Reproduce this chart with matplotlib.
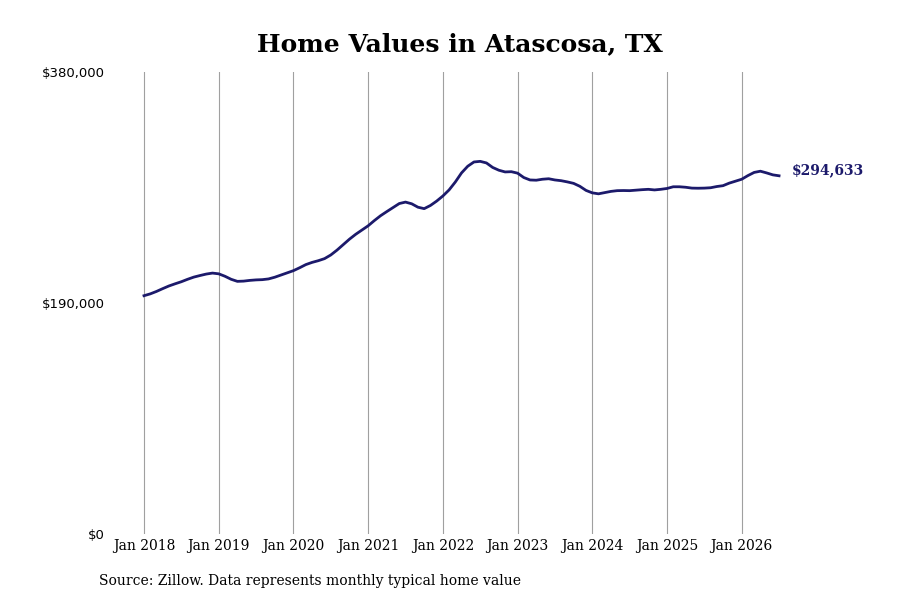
import matplotlib
matplotlib.use("Agg")
import matplotlib.pyplot as plt
import numpy as np

# monthly typical home value, Jan 2018 .. Jul 2026 (thousands of $)
values_2018 = [196.0, 197.5, 199.5, 201.8, 204.0, 205.8, 207.5, 209.5, 211.3, 212.6, 213.8, 214.6]
values_2019 = [214.0, 212.0, 209.5, 207.8, 208.0, 208.6, 209.0, 209.2, 209.8, 211.2, 213.0, 214.8]
values_2020 = [216.6, 219.0, 221.6, 223.4, 224.8, 226.5, 229.5, 233.5, 238.0, 242.5, 246.5, 250.0]
values_2021 = [253.5, 257.8, 261.8, 265.2, 268.5, 271.8, 273.0, 271.6, 268.8, 267.6, 270.2, 273.8]
values_2022 = [278.0, 283.0, 289.5, 297.0, 302.5, 306.0, 306.5, 305.2, 301.5, 299.2, 297.8, 298.0]
values_2023 = [296.8, 293.2, 291.2, 291.0, 291.8, 292.2, 291.2, 290.6, 289.6, 288.4, 286.0, 282.6]
values_2024 = [280.6, 279.8, 280.8, 281.8, 282.4, 282.5, 282.4, 282.8, 283.2, 283.5, 283.0, 283.5]
values_2025 = [284.2, 285.6, 285.6, 285.2, 284.5, 284.4, 284.5, 284.8, 285.8, 286.5, 288.6, 290.2]
values_2026 = [291.8, 294.8, 297.4, 298.4, 297.0, 295.4, 294.633]

values = np.array(values_2018 + values_2019 + values_2020 + values_2021 + values_2022
                  + values_2023 + values_2024 + values_2025 + values_2026) * 1000
months = np.arange(len(values))

tick_years = [2018, 2019, 2020, 2021, 2022, 2023, 2024, 2025, 2026]
y_ticks = [0, 190000, 380000]
y_labels = ["$0", "$190,000", "$380,000"]
end_label = "$294,633"

navy = "#1c1a6b"

fig = plt.figure(figsize=(9, 6), dpi=100)
ax = fig.add_axes([110 / 900, 66 / 600, 750 / 900, 462 / 600])

ax.plot(months, values, color=navy, linewidth=2.0, zorder=3)

ax.set_xlim(-5.46, 115.0)
ax.set_ylim(0, 380000)

ax.set_xticks([12 * i for i in range(len(tick_years))])
ax.set_xticklabels(["Jan %d" % y for y in tick_years], family="DejaVu Serif", fontsize=10)
ax.set_yticks(y_ticks)
ax.set_yticklabels(y_labels, family="DejaVu Sans", fontsize=9.5)
ax.tick_params(axis="both", length=0)
ax.tick_params(axis="x", pad=3.5)
ax.tick_params(axis="y", pad=4)

for s in ax.spines.values():
    s.set_visible(False)
ax.grid(axis="x", color="#a0a0a0", linewidth=0.8)
ax.set_axisbelow(True)

ax.annotate(end_label, xy=(months[-1], values[-1]), xytext=(9, 4),
            textcoords="offset points", va="center", ha="left",
            family="DejaVu Serif", fontweight="bold", fontsize=10, color=navy)

fig.text(460 / 900, 1 - 44 / 600, "Home Values in Atascosa, TX", ha="center", va="center",
         family="DejaVu Serif", fontweight="bold", fontsize=18)
fig.text(99 / 900, 1 - 581 / 600, "Source: Zillow. Data represents monthly typical home value",
         ha="left", va="center", family="DejaVu Serif", fontsize=10)

fig.savefig("out.png", dpi=100)
